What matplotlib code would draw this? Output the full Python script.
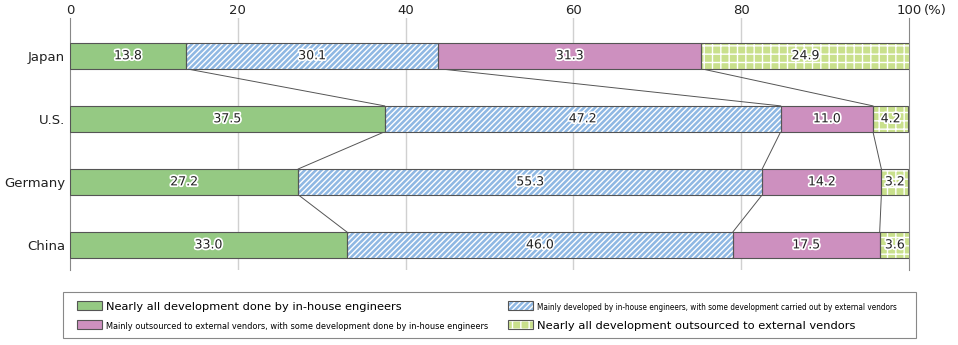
import numpy as np
import matplotlib.pyplot as plt
import matplotlib.patheffects as pe
from matplotlib.patches import Patch, Rectangle
from matplotlib.legend_handler import HandlerTuple

countries = ['Japan', 'U.S.', 'Germany', 'China']
inhouse = [13.8, 37.5, 27.2, 33.0]
mainly_inhouse = [30.1, 47.2, 55.3, 46.0]
mainly_outsourced = [31.3, 11.0, 14.2, 17.5]
outsourced = [24.9, 4.2, 3.2, 3.6]

labels = ['Nearly all development done by in-house engineers',
          'Mainly developed by in-house engineers, with some development carried out by external vendors',
          'Mainly outsourced to external vendors, with some development done by in-house engineers',
          'Nearly all development outsourced to external vendors']

plt.rcParams['hatch.linewidth'] = 1.0

colors = ['#95c983', '#8fb8e3', '#cd90bf', '#c9e08c']
hatches = [None, '//////', None, '++']
edge = '#555555'

fig = plt.figure(figsize=(9.58, 3.45), dpi=100)
ax = fig.add_axes([0.0731, 0.217, 0.8758, 0.731])

series = [inhouse, mainly_inhouse, mainly_outsourced, outsourced]
y = np.arange(len(countries))
h = 0.41
left = np.zeros(len(countries))
ends = []
for vals, c, ht in zip(series, colors, hatches):
    vals = np.array(vals)
    # fill (hatch drawn in white)
    ax.barh(y, vals, left=left, height=h, color=c, hatch=ht,
            edgecolor='white', linewidth=0, zorder=3)
    # outline
    ax.barh(y, vals, left=left, height=h, fill=False,
            edgecolor=edge, linewidth=0.8, zorder=4)
    for yi, l, v in zip(y, left, vals):
        ax.text(l + v / 2, yi, f'{v:.1f}', ha='center', va='center', fontsize=9,
                color='#222222', zorder=5,
                path_effects=[pe.withStroke(linewidth=2.5, foreground='white')])
    left = left + vals
    ends.append(left.copy())

# connector lines between bars
for e in ends[:-1]:
    for i in range(len(countries) - 1):
        ax.plot([e[i], e[i + 1]], [y[i] + h / 2, y[i + 1] - h / 2],
                color=edge, linewidth=0.7, zorder=2)

ax.set_xlim(0, 100)
ax.set_ylim(3.4, -0.6)
ax.set_yticks(y)
ax.set_yticklabels(countries, fontsize=9.5)
ax.set_xticks([0, 20, 40, 60, 80, 100])
ax.xaxis.tick_top()
ax.tick_params(axis='both', length=0, labelsize=9.5, colors='#222222')
ax.tick_params(axis='x', pad=1)
ax.annotate('(%)', xy=(1, 1), xycoords='axes fraction', xytext=(11, 1),
            textcoords='offset points', fontsize=9.5, color='#222222',
            ha='left', va='bottom')
for xv in [20, 40, 60, 80]:
    ax.axvline(xv, color='#d0d0d0', linewidth=1, zorder=1)
for s in ['top', 'bottom']:
    ax.spines[s].set_visible(False)
for s in ['left', 'right']:
    ax.spines[s].set_color('#888888')


def handle(i):
    return (Patch(facecolor=colors[i], hatch=hatches[i], edgecolor='white', linewidth=0),
            Patch(fill=False, edgecolor=edge, linewidth=0.8))


# legend frame
fig.add_artist(Rectangle((63 / 958, 7 / 345), 853 / 958, 46 / 345, transform=fig.transFigure,
                         fill=False, edgecolor='#888888', linewidth=0.8))

common = dict(frameon=False, fontsize=8, handlelength=2.25, handleheight=0.8,
              handletextpad=0.4, labelspacing=0.8, borderaxespad=0, borderpad=0,
              handler_map={tuple: HandlerTuple(ndivide=1)})
leg1 = fig.legend([handle(0), handle(2)], [labels[0], labels[2]], loc='center left',
                  bbox_to_anchor=(77 / 958, 29 / 345), **common)
leg2 = fig.legend([handle(1), handle(3)], [labels[1], labels[3]], loc='center left',
                  bbox_to_anchor=(508 / 958, 29 / 345), **common)

# fit legend texts to the widths they take in the original (px)
targets = [(leg1.get_texts()[0], 296, False), (leg1.get_texts()[1], 381, True),
           (leg2.get_texts()[0], 356, True), (leg2.get_texts()[1], 318, False)]
for t, w, narrow in targets:
    if narrow:
        t.set_fontstretch('condensed')
fig.canvas.draw()
r = fig.canvas.get_renderer()
for t, w, narrow in targets:
    cur = t.get_window_extent(r).width
    t.set_fontsize(t.get_fontsize() * w / cur)

fig.savefig('out.png', dpi=100)
